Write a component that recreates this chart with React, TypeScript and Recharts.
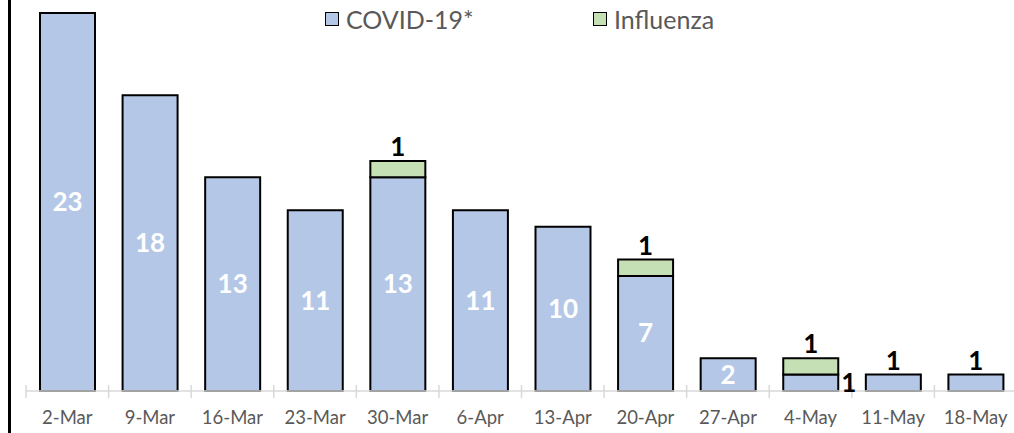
import React from "react";
import { Bar, BarChart, LabelList, XAxis, YAxis } from "recharts";

const weeks = ["2-Mar", "9-Mar", "16-Mar", "23-Mar", "30-Mar", "6-Apr", "13-Apr", "20-Apr", "27-Apr", "4-May", "11-May", "18-May"];
const covid = [23, 18, 13, 11, 13, 11, 10, 7, 2, 1, 1, 1];
const influenza = [0, 0, 0, 0, 1, 0, 0, 1, 0, 1, 0, 0];
const seriesNames = ["COVID-19*", "Influenza"];

const data = weeks.map((week, i) => ({ week, covid: covid[i], influenza: influenza[i] }));

const BLUE = "#B4C7E7";
const GREEN = "#C5E0B4";
const FONT = "Lato, 'Open Sans', sans-serif";

const W = 1017;
const H = 433;
const LEFT = 26;
const BAND = (W - LEFT) / weeks.length;

function WeekTick(props: any) {
  const { x, y, payload, index } = props;
  const axisY = y - 8;
  return (
    <g>
      <line x1={x - BAND / 2} x2={x - BAND / 2} y1={axisY - 6} y2={axisY + 7} stroke="#d9d9d9" strokeWidth={1.5} />
      {index === weeks.length - 1 && (
        <line x1={x + BAND / 2} x2={x + BAND / 2} y1={axisY - 6} y2={axisY + 7} stroke="#d9d9d9" strokeWidth={1.5} />
      )}
      <text x={x} y={axisY + 33} textAnchor="middle" fill="#595959" fontSize={18.5} fontFamily={FONT}>
        {payload.value}
      </text>
    </g>
  );
}

function CovidLabel(props: any) {
  const { x, y, width, height, value, index } = props;
  if (!value) return null;
  const cx = x + width / 2;
  if (value >= 2) {
    return (
      <text x={cx} y={y + height / 2} dy={9} textAnchor="middle" fill="#fff" fontSize={26} fontWeight={700} fontFamily={FONT}>
        {value}
      </text>
    );
  }
  if (influenza[index] > 0) {
    return (
      <text x={x + width + 3} y={y + height / 2} dy={9} textAnchor="start" fill="#000" fontSize={26} fontWeight={700} fontFamily={FONT}>
        {value}
      </text>
    );
  }
  return (
    <text x={cx} y={y - 5} textAnchor="middle" fill="#000" fontSize={26} fontWeight={700} fontFamily={FONT}>
      {value}
    </text>
  );
}

function FluLabel(props: any) {
  const { x, y, width, value } = props;
  if (!value) return null;
  return (
    <text x={x + width / 2} y={y - 5} textAnchor="middle" fill="#000" fontSize={26} fontWeight={700} fontFamily={FONT}>
      {value}
    </text>
  );
}

export default function App() {
  const colors = [BLUE, GREEN];
  return (
    <div style={{ position: "absolute", left: 0, top: 0, width: 1014, height: H, overflow: "hidden", background: "#fff" }}>
      <div style={{ position: "absolute", left: 8, top: 0, width: 3, height: H, background: "#000" }} />
      {/* Legend */}
      <div style={{ position: "absolute", top: 3, left: 0, width: 1014, height: 32, fontFamily: FONT, fontSize: 25, color: "#595959" }}>
        {seriesNames.map((name, i) => (
          <div key={name} style={{ position: "absolute", left: i === 0 ? 325 : 593, top: 0, display: "flex", alignItems: "center", height: 32 }}>
            <span style={{ display: "inline-block", width: 12, height: 12, background: colors[i], border: "1.5px solid #000", marginRight: 7 }} />
            <span>{name}</span>
          </div>
        ))}
      </div>
      <BarChart width={W} height={H} data={data} margin={{ top: 13, right: 0, left: LEFT, bottom: 0 }} barSize={55}>
        <YAxis hide domain={[0, 23]} />
        <XAxis
          dataKey="week"
          height={42}
          interval={0}
          axisLine={{ stroke: "#d9d9d9", strokeWidth: 1.5 }}
          tickLine={false}
          tick={<WeekTick />}
        />
        <Bar dataKey="covid" stackId="a" fill={BLUE} stroke="#000" strokeWidth={2} isAnimationActive={false}>
          <LabelList dataKey="covid" content={<CovidLabel />} />
        </Bar>
        <Bar dataKey="influenza" stackId="a" fill={GREEN} stroke="#000" strokeWidth={2} isAnimationActive={false}>
          <LabelList dataKey="influenza" content={<FluLabel />} />
        </Bar>
      </BarChart>
    </div>
  );
}
